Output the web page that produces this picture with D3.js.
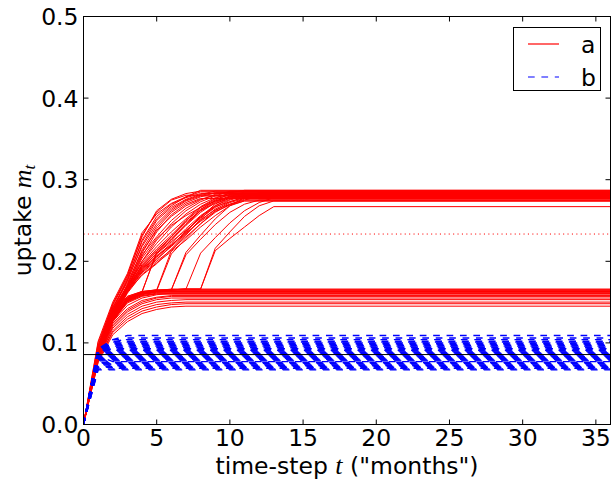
<!DOCTYPE html>
<html>
<head>
<meta charset="utf-8">
<script src="https://cdn.jsdelivr.net/npm/d3@7"></script>
<style>
    body { margin: 0; background: #fff; }
    text { font-family: "DejaVu Sans", sans-serif; }
    .math { font-family: "Liberation Serif", "DejaVu Serif", serif; font-style: italic; }
</style>
</head>
<body>
<div id="chart"></div>
<script>
// month index -> uptake value, last value holds until the end of the axis
var redRuns = [
    // fast to the top
    [0, .097, .148, .182, .232, .26, .275, .281],
    [0, .102, .15, .185, .235, .258, .271, .279, .285],
    [0, .094, .143, .178, .226, .255, .27, .278, .283],
    [0, .092, .14, .176, .22, .25, .266, .276, .282, .286],
    [0, .096, .146, .18, .224, .252, .268, .279, .287],
    [0, .09, .137, .172, .214, .243, .262, .274, .28],
    [0, .093, .141, .17, .21, .24, .26, .272, .279, .284],
    [0, .089, .136, .168, .206, .236, .257, .27, .277],
    [0, .095, .144, .174, .212, .238, .255, .268, .276, .281],
    [0, .091, .139, .171, .208, .23, .25, .265, .275, .282, .285],
    [0, .1, .147, .183, .23, .262, .276, .283, .286],
    [0, .094, .142, .177, .218, .246, .264, .275, .281, .284],
    // medium
    [0, .088, .134, .167, .2, .222, .242, .258, .27, .278, .283],
    [0, .086, .132, .165, .196, .215, .232, .25, .264, .274, .28],
    [0, .09, .136, .169, .198, .218, .236, .252, .267, .277, .284, .287],
    [0, .087, .133, .164, .192, .21, .226, .244, .26, .272, .279],
    [0, .085, .131, .163, .19, .206, .222, .24, .256, .268, .276, .281],
    [0, .092, .138, .168, .194, .212, .228, .246, .263, .275, .282],
    [0, .084, .13, .162, .188, .203, .218, .234, .25, .264, .273, .278],
    [0, .089, .135, .166, .193, .209, .224, .238, .253, .266, .275, .28, .284],
    [0, .086, .131, .163, .186, .2, .214, .23, .246, .26, .27, .276],
    [0, .083, .129, .161, .184, .198, .212, .226, .242, .256, .268, .274],
    [0, .088, .134, .166, .191, .207, .22, .236, .254, .27, .279, .285],
    [0, .091, .137, .168, .195, .213, .23, .248, .262, .271, .277, .283],
    [0, .087, .132, .165, .187, .202, .219, .237, .255, .267, .273, .279, .282],
    [0, .085, .13, .163, .183, .197, .215, .233, .251, .263, .27, .275, .28],
    [0, .09, .136, .167, .189, .205, .22, .235, .249, .261, .269, .274],
    [0, .093, .14, .17, .2, .226, .246, .262, .273, .28, .286],
    [0, .089, .135, .168, .204, .228, .244, .256, .266, .274, .279],
    // stuck on the low plateau, then jump
    [0, .086, .131, .155, .163, .21, .226, .245, .262, .273, .279],
    [0, .083, .128, .153, .162, .212, .23, .25, .266, .276, .282],
    [0, .082, .127, .152, .161, .164, .209, .228, .246, .262, .272, .277],
    [0, .085, .13, .154, .162, .165, .213, .232, .252, .268, .278],
    [0, .081, .126, .151, .16, .163, .165, .208, .227, .245, .26, .27, .275],
    [0, .084, .129, .153, .161, .164, .165, .211, .232, .252, .268, .278],
    [0, .083, .128, .152, .161, .164, .165, .166, .21, .229, .247, .262, .272, .278],
    [0, .086, .13, .154, .162, .164, .165, .166, .166, .213, .228, .242, .256, .267],
    [0, .082, .127, .151, .16, .163, .165, .166, .166, .216, .236, .255, .268, .274],
    // low plateau
    [0, .088, .134, .155, .162, .164],
    [0, .09, .136, .157, .163, .165],
    [0, .086, .132, .153, .16, .163],
    [0, .085, .13, .152, .159, .162],
    [0, .089, .135, .156, .162, .164, .166],
    [0, .087, .133, .154, .161, .163],
    [0, .084, .129, .15, .158, .161],
    [0, .091, .137, .157, .163, .165],
    [0, .083, .127, .149, .157, .16],
    [0, .086, .131, .153, .16, .162, .163],
    [0, .088, .133, .155, .161, .163],
    [0, .085, .13, .151, .158, .16],
    [0, .082, .124, .142, .152, .156, .158],
    [0, .08, .12, .138, .148, .153, .155],
    [0, .079, .118, .135, .145, .15, .152, .153],
    [0, .078, .115, .132, .142, .147, .149, .15],
    [0, .077, .113, .129, .139, .144, .147, .148],
    [0, .076, .11, .126, .136, .141, .144, .145],
    [0, .081, .122, .14, .15, .155, .157],
    [0, .083, .126, .146, .155, .159, .161]
];

var blueRuns = [
    [0, .067], [0, .068], [0, .083, .069], [0, .07], [0, .071],
    [0, .085, .072], [0, .073], [0, .074], [0, .075], [0, .076],
    [0, .084, .077], [0, .078], [0, .079], [0, .08], [0, .081],
    [0, .082], [0, .083], [0, .084], [0, .085], [0, .086],
    [0, .087], [0, .088], [0, .089], [0, .09], [0, .091],
    [0, .09, .092], [0, .089, .093], [0, .091, .094], [0, .09, .095],
    [0, .092, .096], [0, .09, .097], [0, .091, .098], [0, .092, .099],
    [0, .09, .1], [0, .093, .101], [0, .091, .102], [0, .092, .104],
    [0, .09, .1, .106], [0, .093, .104, .109]
];

var blackLevel = 0.0857,
    redLevel = 0.2334;

var xTicks = [0, 5, 10, 15, 20, 25, 30, 35],
    yTicks = [0, 0.1, 0.2, 0.3, 0.4, 0.5],
    legendLabels = ['a', 'b'],
    maxMonth = 36;

var width = 611,
    height = 482,
    plot = {left: 83.5, right: 610.5, top: 16.5, bottom: 424.5};

var svg = d3.select('#chart')
    .append('svg')
    .attr('width', width)
    .attr('height', height);

var x = d3.scaleLinear().domain([0, maxMonth]).range([plot.left, plot.right]),
    y = d3.scaleLinear().domain([0, 0.5]).range([plot.bottom, plot.top]);

svg.append('clipPath')
    .attr('id', 'clip')
    .append('rect')
    .attr('x', plot.left)
    .attr('y', plot.top)
    .attr('width', plot.right - plot.left)
    .attr('height', plot.bottom - plot.top);

var line = d3.line()
    .x(function (d) { return x(d[0]); })
    .y(function (d) { return y(d[1]); });

function toPoints(run) {
    var pts = run.map(function (v, i) { return [i, v]; });
    pts.push([maxMonth, run[run.length - 1]]);
    return pts;
}

var marks = svg.append('g').attr('clip-path', 'url(#clip)');

marks.append('g')
    .selectAll('path')
    .data(redRuns)
    .enter()
    .append('path')
    .attr('d', function (d) { return line(toPoints(d)); })
    .attr('fill', 'none')
    .attr('stroke', 'red')
    .attr('stroke-width', 1);

marks.append('g')
    .selectAll('path')
    .data(blueRuns)
    .enter()
    .append('path')
    .attr('d', function (d) { return line(toPoints(d)); })
    .attr('fill', 'none')
    .attr('stroke', 'blue')
    .attr('stroke-width', 1.4)
    .attr('stroke-dasharray', '6.7,6.7');

// reference levels
marks.append('line')
    .attr('x1', x(0)).attr('x2', x(maxMonth))
    .attr('y1', y(blackLevel)).attr('y2', y(blackLevel))
    .attr('stroke', 'black')
    .attr('stroke-width', 1);

marks.append('line')
    .attr('x1', x(0)).attr('x2', x(maxMonth))
    .attr('y1', y(redLevel)).attr('y2', y(redLevel))
    .attr('stroke', 'red')
    .attr('stroke-width', 1)
    .attr('stroke-dasharray', '1.1,3.3');

// frame + inward ticks on all four sides
var tickLen = 5;
var axes = svg.append('g').attr('stroke', 'black').attr('stroke-width', 1);

xTicks.forEach(function (t) {
    axes.append('line').attr('x1', x(t)).attr('x2', x(t))
        .attr('y1', plot.bottom).attr('y2', plot.bottom - tickLen);
    axes.append('line').attr('x1', x(t)).attr('x2', x(t))
        .attr('y1', plot.top).attr('y2', plot.top + tickLen);
});
yTicks.forEach(function (t) {
    axes.append('line').attr('x1', plot.left).attr('x2', plot.left + tickLen)
        .attr('y1', y(t)).attr('y2', y(t));
    axes.append('line').attr('x1', plot.right).attr('x2', plot.right - tickLen)
        .attr('y1', y(t)).attr('y2', y(t));
});

axes.append('rect')
    .attr('x', plot.left)
    .attr('y', plot.top)
    .attr('width', plot.right - plot.left)
    .attr('height', plot.bottom - plot.top)
    .attr('fill', 'none');

svg.append('g')
    .selectAll('text')
    .data(xTicks)
    .enter()
    .append('text')
    .attr('x', function (d) { return x(d); })
    .attr('y', 446)
    .attr('text-anchor', 'middle')
    .attr('font-size', 23.5)
    .text(function (d) { return d; });

svg.append('g')
    .selectAll('text')
    .data(yTicks)
    .enter()
    .append('text')
    .attr('x', 78.5)
    .attr('y', function (d) { return y(d) + 8.5; })
    .attr('text-anchor', 'end')
    .attr('font-size', 23.5)
    .text(function (d) { return d3.format('.1f')(d); });

// axis labels
var xLabel = svg.append('text')
    .attr('x', (plot.left + plot.right) / 2)
    .attr('y', 474)
    .attr('text-anchor', 'middle')
    .attr('font-size', 23.5);
xLabel.append('tspan').text('time-step ');
xLabel.append('tspan').attr('class', 'math').attr('font-size', 26).text('t');
xLabel.append('tspan').text(' ("months")');

var yLabel = svg.append('text')
    .attr('transform', 'translate(31,' + ((plot.top + plot.bottom) / 2) + ') rotate(-90)')
    .attr('text-anchor', 'middle')
    .attr('font-size', 23.5);
yLabel.append('tspan').text('uptake ');
yLabel.append('tspan').attr('class', 'math').attr('font-size', 26).text('m');
yLabel.append('tspan').attr('class', 'math').attr('font-size', 17).attr('dy', 4).text('t');

// legend
var legend = svg.append('g');
legend.append('rect')
    .attr('x', 513.5).attr('y', 27.5)
    .attr('width', 87).attr('height', 63)
    .attr('fill', 'white')
    .attr('stroke', 'black')
    .attr('stroke-width', 1);

legendLabels.forEach(function (lab, i) {
    var ly = 44 + i * 33;
    legend.append('line')
        .attr('x1', 528).attr('x2', 559)
        .attr('y1', ly).attr('y2', ly)
        .attr('stroke', i === 0 ? 'red' : 'blue')
        .attr('stroke-width', 1.2)
        .attr('stroke-dasharray', i === 0 ? null : '6.7,6.7');
    legend.append('text')
        .attr('x', 581)
        .attr('y', ly + 8.5)
        .attr('font-size', 23.5)
        .text(lab);
});
</script>
</body>
</html>
